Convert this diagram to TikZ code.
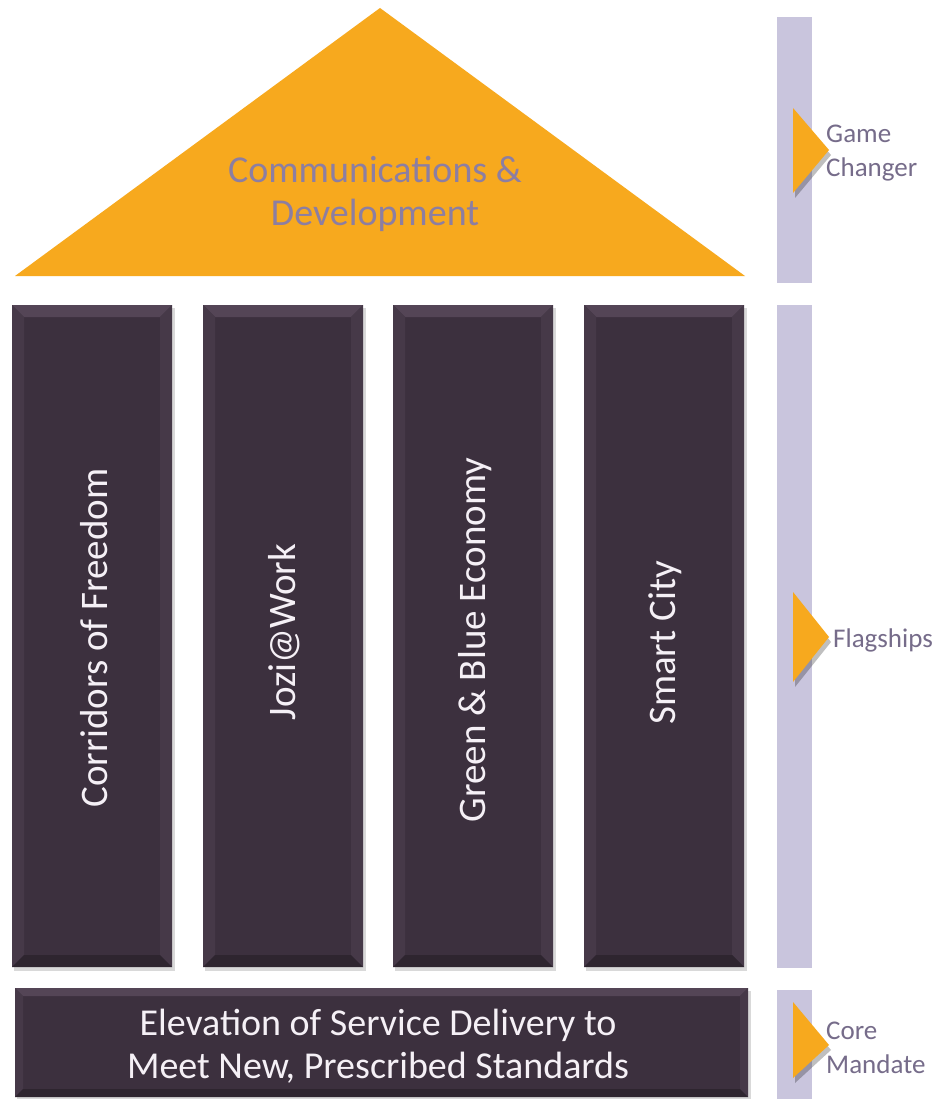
\documentclass[tikz,border=0pt]{standalone}
\usepackage{fontspec}
\setmainfont{Carlito}
\usetikzlibrary{calc}

\definecolor{roof}{RGB}{247,169,30}
\definecolor{rooftext}{RGB}{140,126,162}
\definecolor{face}{RGB}{60,48,62}
\definecolor{bevtop}{RGB}{84,69,86}
\definecolor{bevside}{RGB}{70,57,72}
\definecolor{bevbot}{RGB}{46,37,47}
\definecolor{facetext}{RGB}{245,240,246}
\definecolor{band}{RGB}{201,197,221}
\definecolor{labeltext}{RGB}{118,108,138}

\tikzset{
  block/.style={fill=face, inner sep=0pt, outer sep=0pt},
  blocktext/.style={text=facetext, font=\fontsize{39}{44}\selectfont, align=center},
  bandbox/.style={fill=band, inner sep=0pt, outer sep=0pt, minimum width=35pt},
  sidelabel/.style={text=labeltext, anchor=west, align=left, inner sep=0pt,
    font=\fontsize{27}{34}\selectfont},
}

% bevelled edges round a block node
\newcommand{\bevel}[2]{%
  \fill[bevtop] (#1.north west) -- (#1.north east) -- ($(#1.north east)+(-#2,#2)$) -- ($(#1.north west)+(#2,#2)$) -- cycle;
  \fill[bevside] (#1.north west) -- ($(#1.north west)+(#2,#2)$) -- ($(#1.south west)+(#2,-#2)$) -- (#1.south west) -- cycle;
  \fill[bevside] (#1.north east) -- ($(#1.north east)+(-#2,#2)$) -- ($(#1.south east)+(-#2,-#2)$) -- (#1.south east) -- cycle;
  \fill[bevbot] (#1.south west) -- ($(#1.south west)+(#2,-#2)$) -- ($(#1.south east)+(-#2,-#2)$) -- (#1.south east) -- cycle;
}

\begin{document}
\begin{tikzpicture}[x=1pt,y=-1pt]
	\useasboundingbox[fill=white] (0,0) rectangle (948,1099);

	% roof
	\fill[roof] (380,8) -- (745,276) -- (15,276) -- cycle;
	\node[text=rooftext, font=\fontsize{38}{43}\selectfont, align=center] (roofText) at (375,194) {Communications \&\\Development};

	% pillars
	\foreach \x/\name in {12/corridors, 203/jozi, 393/green, 584/smart}
	{
		\fill[black, opacity=0.15] (\x+2,308) rectangle (\x+163,971);
		\node[block, minimum width=160pt, minimum height=662pt, anchor=north west] (\name) at (\x,305) {};
		\bevel{\name}{12}
	}
	\node[blocktext, rotate=90] (corridorsText) at (94,638) {Corridors of Freedom};
	\node[blocktext, rotate=90] (joziText) at (284,632) {Jozi@Work};
	\node[blocktext, rotate=90] (greenText) at (475,640) {Green \& Blue Economy};
	\node[blocktext, rotate=90] (smartText) at (665,643) {Smart City};

	% base
	\fill[black, opacity=0.15] (17,991) rectangle (751,1099);
	\node[block, minimum width=733pt, minimum height=109pt, anchor=north west] (base) at (15,988) {};
	\bevel{base}{8}
	\node[blocktext, font=\fontsize{38}{43}\selectfont] (baseText) at (378,1046) {Elevation of Service Delivery to\\Meet New, Prescribed Standards};

	% side bands
	\node[bandbox, minimum height=266pt, anchor=north west] (bandTop) at (777,17) {};
	\node[bandbox, minimum height=663pt, anchor=north west] (bandMid) at (777,305) {};
	\node[bandbox, minimum height=110pt, anchor=north west] (bandLow) at (777,990) {};

	% pointers
	\foreach \yt/\ym/\yb in {108/150/193, 592/637/682, 1002/1045/1078}
	{
		\fill[black, opacity=0.25] (795,\yt+5) -- (831,\ym+5) -- (795,\yb+5) -- cycle;
		\fill[roof] (793,\yt) -- (829,\ym) -- (793,\yb) -- cycle;
	}
	\node[sidelabel] (gameLabel) at (826,153) {Game\\Changer};
	\node[sidelabel] (flagLabel) at (833,640) {Flagships};
	\node[sidelabel] (coreLabel) at (826,1048) {Core\\Mandate};
\end{tikzpicture}
\end{document}
